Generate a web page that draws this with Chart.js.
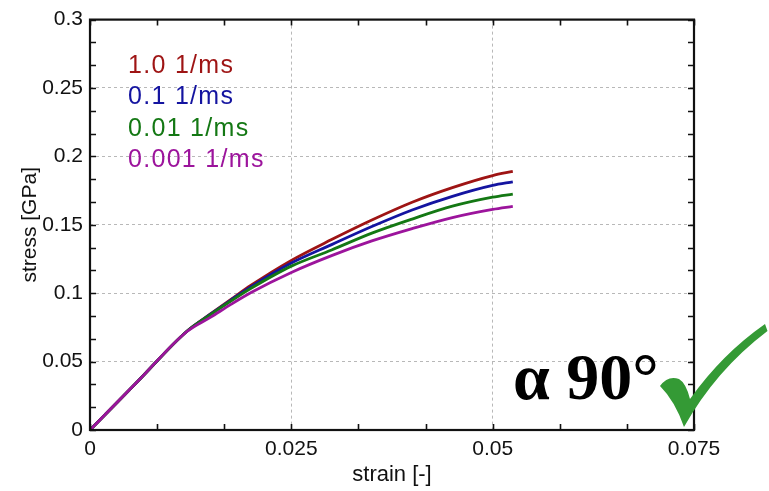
<!DOCTYPE html>
<html>
<head>
<meta charset="utf-8">
<script src="https://cdn.jsdelivr.net/npm/chart.js@4/dist/chart.umd.min.js"></script>
<style>
  html, body { margin: 0; padding: 0; background: #fff; }
  canvas { display: block; }
</style>
</head>
<body>
<canvas id="c" width="769" height="491"></canvas>
<script>
// Strain sampling points shared by all curves [-]
const strain = [0, 0.006, 0.012, 0.015, 0.0175, 0.02, 0.025, 0.03, 0.035, 0.04, 0.045, 0.05, 0.0525];

// Stress response [GPa] at each strain rate
const stressRate1 = [0, 0.036, 0.0720, 0.0850, 0.0955, 0.1058, 0.1240, 0.1392, 0.1535, 0.1665, 0.1772, 0.1860, 0.1890];
const stressRate01 = [0, 0.036, 0.0720, 0.0848, 0.0950, 0.1048, 0.1220, 0.1355, 0.1487, 0.1608, 0.1708, 0.1788, 0.1814];
const stressRate001 = [0, 0.036, 0.0720, 0.0845, 0.0943, 0.1036, 0.1198, 0.1316, 0.1439, 0.1542, 0.1636, 0.1702, 0.1725];
const stressRate0001 = [0, 0.036, 0.0718, 0.0825, 0.0918, 0.1005, 0.1152, 0.1275, 0.1382, 0.1472, 0.1553, 0.1613, 0.1635];

const rateLabels = ['1.0 1/ms', '0.1 1/ms', '0.01 1/ms', '0.001 1/ms'];
const rateColors = ['#9e1414', '#1414a0', '#147814', '#9c149c'];

// Axis ranges, major ticks and their labels
const xRange = [0, 0.075];
const xTickValues = [0, 0.025, 0.05, 0.075];
const xTickLabels = ['0', '0.025', '0.05', '0.075'];
const yRange = [0, 0.3];
const yTickValues = [0, 0.05, 0.1, 0.15, 0.2, 0.25, 0.3];
const yTickLabels = ['0', '0.05', '0.1', '0.15', '0.2', '0.25', '0.3'];
const minorPerMajor = 3;

const annotationText = 'α 90°';

const seriesValues = [stressRate1, stressRate01, stressRate001, stressRate0001];
const datasets = seriesValues.map((vals, i) => ({
  label: rateLabels[i],
  data: strain.map((s, k) => ({ x: s, y: vals[k] })),
  borderColor: rateColors[i],
  backgroundColor: rateColors[i],
  borderWidth: 2.8,
  pointRadius: 0,
  cubicInterpolationMode: 'monotone',
  fill: false
}));
// draw slowest rate last so it sits on top in the shared linear part
datasets.reverse();

// Frame, inward tick marks (major + minor), rate labels and the angle annotation
const decorPlugin = {
  id: 'decor',
  afterDatasetsDraw(chart) {
    const ctx = chart.ctx;
    const a = chart.chartArea;
    const xs = chart.scales.x, ys = chart.scales.y;
    ctx.save();
    ctx.strokeStyle = '#111';
    ctx.lineWidth = 1.6;
    const tl = 6;
    const xStep = xTickValues[1] - xTickValues[0];
    const nx = Math.round((xRange[1] - xRange[0]) / xStep * minorPerMajor);
    for (let i = 0; i <= nx; i++) {
      const px = Math.round(xs.getPixelForValue(xRange[0] + i * xStep / minorPerMajor)) + 0.5;
      ctx.beginPath();
      ctx.moveTo(px, a.bottom); ctx.lineTo(px, a.bottom - tl);
      ctx.moveTo(px, a.top); ctx.lineTo(px, a.top + tl);
      ctx.stroke();
    }
    const yStep = yTickValues[1] - yTickValues[0];
    const ny = Math.round((yRange[1] - yRange[0]) / yStep * minorPerMajor);
    for (let i = 0; i <= ny; i++) {
      const py = Math.round(ys.getPixelForValue(yRange[0] + i * yStep / minorPerMajor)) + 0.5;
      ctx.beginPath();
      ctx.moveTo(a.left, py); ctx.lineTo(a.left + tl, py);
      ctx.moveTo(a.right, py); ctx.lineTo(a.right - tl, py);
      ctx.stroke();
    }
    ctx.lineWidth = 2.2;
    ctx.strokeRect(a.left, a.top, a.right - a.left, a.bottom - a.top);

    // rate labels
    ctx.font = '25px "Liberation Sans", Arial, sans-serif';
    ctx.letterSpacing = '1.3px';
    ctx.textAlign = 'left';
    ctx.textBaseline = 'alphabetic';
    rateLabels.forEach((t, i) => {
      ctx.fillStyle = rateColors[i];
      ctx.fillText(t, 128, 72.7 + i * 31.5);
    });
    ctx.letterSpacing = '0px';

    // angle annotation
    ctx.fillStyle = '#000';
    ctx.font = 'bold 66px "Liberation Serif", "Times New Roman", serif';
    ctx.fillText(annotationText, 513, 399);

    // check mark
    ctx.fillStyle = '#349a35';
    ctx.beginPath();
    ctx.moveTo(660, 386);
    ctx.quadraticCurveTo(668, 375, 679, 379);
    ctx.quadraticCurveTo(686, 383, 690, 399);
    ctx.quadraticCurveTo(722, 354, 765, 324);
    ctx.lineTo(767.5, 331);
    ctx.quadraticCurveTo(716, 370, 684, 427);
    ctx.quadraticCurveTo(675, 401, 660, 386);
    ctx.closePath();
    ctx.fill();
    ctx.restore();
  }
};

const tickFont = { family: '"Liberation Sans", Arial, sans-serif', size: 21 };

new Chart(document.getElementById('c'), {
  type: 'line',
  data: { datasets },
  options: {
    responsive: false,
    animation: false,
    devicePixelRatio: 1,
    layout: { padding: { top: 15, right: 75, left: 0, bottom: 0 } },
    plugins: { legend: { display: false }, tooltip: { enabled: false } },
    scales: {
      x: {
        type: 'linear',
        min: xRange[0], max: xRange[1],
        afterBuildTicks(s) { s.ticks = xTickValues.map(v => ({ value: v })); },
        ticks: {
          color: '#111',
          padding: 7,
          maxRotation: 0,
          autoSkip: false,
          font: tickFont,
          callback: (v, i) => xTickLabels[i]
        },
        grid: { color: '#b8b8b8', lineWidth: 1, drawTicks: false },
        border: { display: false, dash: [3, 3] },
        title: {
          display: true,
          text: 'strain [-]',
          color: '#111',
          padding: { top: 0, bottom: 3 },
          font: { family: '"Liberation Sans", Arial, sans-serif', size: 22 }
        },
        afterFit(s) { s.height = 61; }
      },
      y: {
        type: 'linear',
        min: yRange[0], max: yRange[1],
        afterBuildTicks(s) { s.ticks = yTickValues.map(v => ({ value: v })); },
        ticks: {
          color: '#111',
          padding: 7,
          autoSkip: false,
          font: tickFont,
          callback: (v, i) => yTickLabels[i]
        },
        grid: { color: '#b8b8b8', lineWidth: 1, drawTicks: false },
        border: { display: false, dash: [3, 3] },
        title: {
          display: true,
          text: 'stress [GPa]',
          color: '#111',
          padding: { top: 18, bottom: 0 },
          font: { family: '"Liberation Sans", Arial, sans-serif', size: 21 }
        },
        afterFit(s) { s.width = 90; }
      }
    }
  },
  plugins: [decorPlugin]
});
</script>
</body>
</html>
